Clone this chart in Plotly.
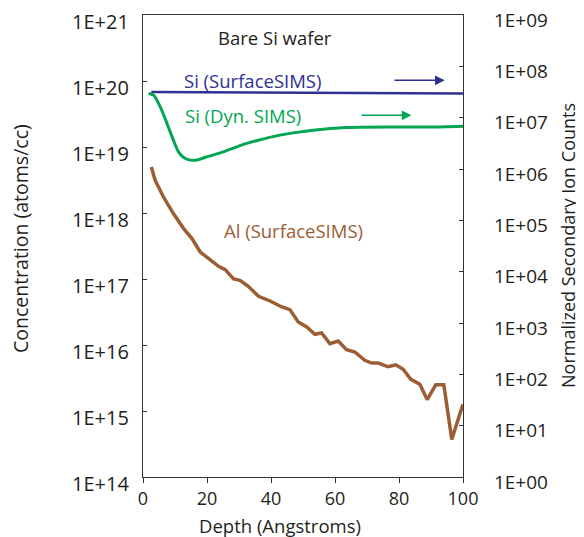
import plotly.graph_objects as go

# ---- data ----
si_surface_x = [2.6, 100]
si_surface_counts = [3.18e7, 2.96e7]

si_dyn_x = [1.75, 3.3, 5.4, 7.5, 9.5, 11.1, 12.7, 14.8, 17.0, 20.0, 25.1, 30.0, 32.4, 42.8, 53.2, 63.6, 79.2, 89.6, 100]
si_dyn_counts = [2.96e7, 2.74e7, 1.62e7, 7.7e6, 3.65e6, 2.16e6, 1.67e6, 1.49e6, 1.50e6, 1.73e6, 2.16e6, 2.80e6, 3.15e6, 4.57e6, 5.7e6, 6.45e6, 6.6e6, 6.6e6, 6.84e6]

al_x = [2.6, 3.8, 6.4, 9.5, 12.7, 15.3, 17.9, 21.0, 23.6, 25.7, 28.3, 30.3, 32.9, 36.1, 39.7, 43.4, 45.9,
        48.5, 51.2, 53.7, 55.8, 58.4, 61.0, 63.6, 66.2, 69.3, 71.4, 73.5, 76.6, 79.0, 81.3, 83.7, 86.5,
        88.8, 91.5, 94.0, 96.5, 99.5, 100]
al_log = [18.697, 18.495, 18.242, 17.991, 17.764, 17.612, 17.409, 17.294, 17.192, 17.142, 17.0, 16.98,
          16.889, 16.738, 16.667, 16.576, 16.536, 16.348, 16.273, 16.162, 16.182, 16.021, 16.061, 15.930,
          15.894, 15.768, 15.727, 15.727, 15.670, 15.70, 15.632, 15.48, 15.405, 15.173, 15.397, 15.397,
          14.567, 15.029, 15.1]
al_conc = [10 ** v for v in al_log]

left_tickvals = [1e14, 1e15, 1e16, 1e17, 1e18, 1e19, 1e20, 1e21]
left_ticktext = ["1E+14", "1E+15", "1E+16", "1E+17", "1E+18", "1E+19", "1E+20", "1E+21"]
right_tickvals = [1e0, 1e1, 1e2, 1e3, 1e4, 1e5, 1e6, 1e7, 1e8, 1e9]
right_ticktext = ["1E+00", "1E+01", "1E+02", "1E+03", "1E+04", "1E+05", "1E+06", "1E+07", "1E+08", "1E+09"]
x_tickvals = [0, 20, 40, 60, 80, 100]

BLUE = "#2e3192"
GREEN = "#00a651"
BROWN = "#9b5e34"
AXC = "#333333"
FONT = "Open Sans"

fig = go.Figure()
fig.add_trace(go.Scatter(x=al_x, y=al_conc, mode="lines", line=dict(color=BROWN, width=3.5),
                         yaxis="y", showlegend=False))
fig.add_trace(go.Scatter(x=si_dyn_x, y=si_dyn_counts, mode="lines",
                         line=dict(color=GREEN, width=3, shape="spline", smoothing=0.8),
                         yaxis="y2", showlegend=False))
fig.add_trace(go.Scatter(x=si_surface_x, y=si_surface_counts, mode="lines", line=dict(color=BLUE, width=2.5),
                         yaxis="y2", showlegend=False))

# page body has an 8px default margin, so the figure is 8px smaller and shifted
fig.update_layout(
    template="none",
    width=576, height=529,
    margin=dict(l=135, r=121, t=7, b=60, pad=0),
    paper_bgcolor="white", plot_bgcolor="white",
    font=dict(family=FONT, size=17, color="#231f20"),
    xaxis=dict(range=[0, 100], tickvals=x_tickvals, ticks="outside", ticklen=5, tickcolor=AXC,
               showline=True, linecolor=AXC, linewidth=1.2, mirror=True, showgrid=False, zeroline=False,
               tickfont=dict(size=18), ticklabelstandoff=0, automargin=False),
    yaxis=dict(type="log", range=[14, 21], tickvals=left_tickvals, ticktext=left_ticktext,
               ticks="inside", ticklen=4, tickcolor=AXC, showline=True, linecolor=AXC, linewidth=1.2,
               showgrid=False, zeroline=False, tickfont=dict(size=20), ticklabelstandoff=9,
               ticklabelshift=7, automargin=False, ticklabeloverflow="allow"),
    yaxis2=dict(type="log", range=[0, 9], tickvals=right_tickvals, ticktext=right_ticktext,
                overlaying="y", side="right", ticks="inside", ticklen=4, tickcolor=AXC,
                showline=True, linecolor=AXC, linewidth=1.2, showgrid=False, zeroline=False,
                tickfont=dict(size=19), ticklabelstandoff=26, ticklabelshift=5, automargin=False,
                ticklabeloverflow="allow"),
)

ann = []
ann.append(dict(text="Concentration (atoms/cc)", xref="paper", yref="paper", x=0, y=0.515,
                xshift=-123, textangle=-90, showarrow=False, font=dict(size=19.5),
                xanchor="center", yanchor="middle"))
ann.append(dict(text="Normalized Secondary Ion Counts", xref="paper", yref="paper", x=1, y=0.5,
                xshift=105, textangle=-90, showarrow=False, font=dict(size=18),
                xanchor="center", yanchor="middle"))
ann.append(dict(text="Depth (Angstroms)", xref="paper", yref="paper", x=0.428, y=0,
                yshift=-48, showarrow=False, font=dict(size=18.5), xanchor="center", yanchor="middle"))
ann.append(dict(text="Bare Si wafer", x=41.3, y=20.66, xref="x", yref="y", showarrow=False,
                font=dict(size=18.5, color="#231f20")))
ann.append(dict(text="Si (SurfaceSIMS)", x=34.3, y=20.01, xref="x", yref="y", showarrow=False,
                font=dict(size=18.5, color=BLUE)))
ann.append(dict(text="Si (Dyn. SIMS)", x=31.2, y=19.48, xref="x", yref="y", showarrow=False,
                font=dict(size=18.5, color=GREEN)))
ann.append(dict(text="Al (SurfaceSIMS)", x=47, y=17.74, xref="x", yref="y", showarrow=False,
                font=dict(size=18.5, color=BROWN)))
# arrows
ann.append(dict(text="", x=94.3, y=20.01, ax=78.1, ay=20.01, xref="x", yref="y", axref="x", ayref="y",
                showarrow=True, arrowhead=2, arrowsize=1.3, arrowwidth=1.5, arrowcolor=BLUE))
ann.append(dict(text="", x=83.9, y=19.48, ax=67.8, ay=19.48, xref="x", yref="y", axref="x", ayref="y",
                showarrow=True, arrowhead=2, arrowsize=1.3, arrowwidth=1.5, arrowcolor=GREEN))
fig.update_layout(annotations=ann)

fig.write_html("out.html")
